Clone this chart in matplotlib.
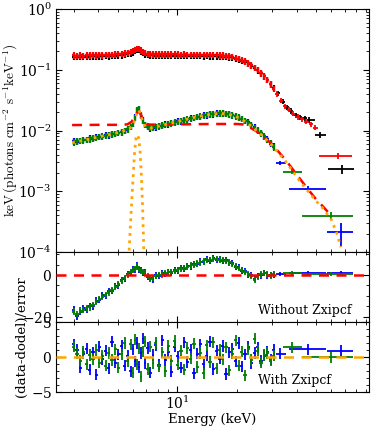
import numpy as np
import matplotlib
matplotlib.use("Agg")
import matplotlib.pyplot as plt
from matplotlib.ticker import MultipleLocator, LogLocator, NullFormatter

plt.rcParams['font.family'] = ['DejaVu Serif']
plt.rcParams['mathtext.fontset'] = 'cm'
plt.rcParams['axes.formatter.use_mathtext'] = True

# energy grid of the dense spectra (keV)
energy = [3.0, 3.12, 3.24, 3.36, 3.49, 3.62, 3.76, 3.9, 4.05, 4.2,
          4.36, 4.52, 4.69, 4.87, 5.05, 5.24, 5.44, 5.64, 5.85, 6.0,
          6.15, 6.3, 6.45, 6.6, 6.75, 6.9, 7.1, 7.3, 7.55, 7.8,
          8.1, 8.4, 8.7, 9.0, 9.35, 9.7, 10.05, 10.45, 10.85, 11.25,
          11.7, 12.15, 12.6, 13.1, 13.6, 14.1, 14.65, 15.2, 15.8, 16.4,
          17.0, 17.65, 18.3, 19.0, 19.7, 20.45, 21.2, 22.0, 22.85, 23.7,
          24.6, 25.5, 26.5, 27.5, 28.5, 29.6, 30.7]

# upper source (red / black)
red_flux = [0.172, 0.170, 0.173, 0.171, 0.174, 0.172, 0.175, 0.173, 0.176, 0.174,
            0.177, 0.176, 0.178, 0.179, 0.181, 0.183, 0.186, 0.190, 0.196, 0.203,
            0.212, 0.224, 0.222, 0.208, 0.197, 0.189, 0.184, 0.181, 0.180, 0.179,
            0.180, 0.179, 0.180, 0.179, 0.180, 0.179, 0.179, 0.178, 0.179, 0.178,
            0.178, 0.177, 0.178, 0.177, 0.176, 0.177, 0.176, 0.175, 0.175, 0.173,
            0.172, 0.170, 0.167, 0.163, 0.158, 0.152, 0.145, 0.137, 0.128, 0.119,
            0.109, 0.099, 0.088, 0.078, 0.068, 0.058, 0.049]
black_flux = [0.163, 0.162, 0.164, 0.163, 0.165, 0.164, 0.166, 0.165, 0.167, 0.166,
              0.168, 0.167, 0.169, 0.170, 0.172, 0.174, 0.177, 0.181, 0.187, 0.194,
              0.203, 0.214, 0.213, 0.199, 0.188, 0.180, 0.175, 0.172, 0.171, 0.170,
              0.171, 0.170, 0.171, 0.170, 0.171, 0.170, 0.170, 0.169, 0.170, 0.169,
              0.169, 0.168, 0.169, 0.168, 0.167, 0.168, 0.167, 0.166, 0.166, 0.165,
              0.164, 0.162, 0.160, 0.157, 0.153, 0.148, 0.142, 0.134, 0.126, 0.117,
              0.108, 0.098, 0.088, 0.078, 0.068, 0.058, 0.050]
red_tail_e = [32.0, 33.5, 35.0, 36.7, 38.5, 40.5, 42.5, 44.8, 47.2, 49.8]
red_tail_f = [0.040, 0.031, 0.025, 0.022, 0.019, 0.0168, 0.0153, 0.0140, 0.0126, 0.0112]
black_tail_e = [32.2, 34.0, 35.8, 37.6, 39.6, 41.7, 44.0, 46.4, 52.5]
black_tail_f = [0.041, 0.030, 0.024, 0.021, 0.0178, 0.0165, 0.0160, 0.0150, 0.0085]
red_wide = dict(e=[64.5], lo=[12.5], hi=[11.5], f=[0.0038], err=[0.0004])
black_wide = dict(e=[68.0], lo=[10.5], hi=[10.0], f=[0.0023], err=[0.0004])

# lower source (blue / green)
green_flux = [0.0064, 0.0066, 0.0067, 0.0069, 0.0071, 0.0072, 0.0074, 0.0076, 0.0078, 0.0080,
              0.0082, 0.0084, 0.0086, 0.0089, 0.0091, 0.0094, 0.0098, 0.0104, 0.0114, 0.0130,
              0.0162, 0.0215, 0.0225, 0.0180, 0.0145, 0.0125, 0.0115, 0.0110, 0.0111, 0.0114,
              0.0118, 0.0121, 0.0125, 0.0128, 0.0132, 0.0136, 0.0140, 0.0144, 0.0148, 0.0152,
              0.0157, 0.0162, 0.0167, 0.0172, 0.0176, 0.0180, 0.0184, 0.0187, 0.0190, 0.0191,
              0.0191, 0.0189, 0.0185, 0.0179, 0.0172, 0.0164, 0.0155, 0.0145, 0.0134, 0.0123,
              0.0112, 0.0101, 0.0090, 0.0080, 0.0071, 0.0062, 0.0053]
blue_flux = [0.0066, 0.0065, 0.0068, 0.0070, 0.0070, 0.0074, 0.0073, 0.0077, 0.0079, 0.0079,
             0.0083, 0.0083, 0.0087, 0.0088, 0.0092, 0.0093, 0.0099, 0.0103, 0.0116, 0.0128,
             0.0165, 0.0210, 0.0228, 0.0176, 0.0148, 0.0123, 0.0117, 0.0108, 0.0113, 0.0112,
             0.0120, 0.0119, 0.0127, 0.0126, 0.0134, 0.0134, 0.0142, 0.0142, 0.0150, 0.0150,
             0.0159, 0.0160, 0.0169, 0.0170, 0.0178, 0.0178, 0.0186, 0.0185, 0.0192, 0.0189,
             0.0193, 0.0187, 0.0187, 0.0177, 0.0174, 0.0162, 0.0157, 0.0143, 0.0136, 0.0121,
             0.0114, 0.0099, 0.0092, 0.0078, 0.0073, 0.0060, 0.0055]
green_wide = dict(e=[38.0, 60.0], lo=[4.0, 17.2], hi=[4.5, 17.5],
                  f=[0.0021, 0.00039], err=[0.0002, 0.00006])
blue_wide = dict(e=[33.2, 45.5, 67.0], lo=[1.8, 9.0, 10.3], hi=[2.4, 11.0, 10.5],
                 f=[0.0029, 0.0011, 0.00021], err=[0.0002, 0.00012, 0.00009])

# models
base_e = [2.95, 4.0, 5.0, 5.6, 5.9, 6.1, 6.3, 6.45, 6.6, 6.8, 7.0, 7.3, 8.0, 10.0, 12.0,
          15.0, 18.0, 20.0, 21.5, 23.0, 25.0, 27.0, 30.0, 33.0, 36.0, 40.0, 45.0, 50.0, 55.0, 60.0]
base_f = [0.0123, 0.0124, 0.0124, 0.0126, 0.0140, 0.0170, 0.0200, 0.0203, 0.0175, 0.0140,
          0.0128, 0.0125, 0.0125, 0.0126, 0.0127, 0.0128, 0.0128, 0.0128, 0.0126, 0.0115,
          0.0098, 0.0082, 0.0060, 0.0042, 0.0030, 0.0019, 0.00115, 0.00075, 0.00054, 0.00039]
full_e = [2.95, 3.5, 4.0, 4.5, 5.0, 5.5, 5.8, 6.0, 6.15, 6.3, 6.4, 6.5, 6.65, 6.8, 7.0, 7.3,
          7.6, 8.0, 9.0, 10.0, 11.0, 12.0, 13.0, 14.0, 15.0, 16.0, 17.0, 18.0, 19.0, 20.0,
          21.0, 22.0, 23.0, 24.0, 25.0, 26.0, 28.0, 30.0, 32.0, 35.0, 38.0, 42.0, 46.0, 50.0,
          55.0, 60.0, 64.0, 67.0]
full_f = [0.0063, 0.0071, 0.0078, 0.0085, 0.0092, 0.0101, 0.0110, 0.0125, 0.0160, 0.0205,
          0.0218, 0.0195, 0.0150, 0.0126, 0.0114, 0.0110, 0.0111, 0.0117, 0.0129, 0.0140,
          0.0151, 0.0162, 0.0172, 0.0180, 0.0187, 0.0190, 0.0190, 0.0186, 0.0179, 0.0167,
          0.0154, 0.0140, 0.0126, 0.0113, 0.0101, 0.0091, 0.0072, 0.0057, 0.0045, 0.0032,
          0.0022, 0.0014, 0.00098, 0.00070, 0.00050, 0.00034, 0.00020, 0.00012]
line_e = [5.70, 5.80, 5.90, 6.00, 6.10, 6.20, 6.30, 6.40, 6.50, 6.60, 6.70, 6.80]
line_f = [8e-5, 2.5e-4, 7e-4, 1.8e-3, 4.5e-3, 7.5e-3, 8.5e-3, 7.5e-3, 4.5e-3, 1.8e-3, 5e-4, 8e-5]

# residuals without Zxipcf
green_res1 = [-17.5, -18.5, -17.0, -16.8, -16.0, -15.5, -14.5, -13.0, -11.5, -10.5,
              -9.5, -8.5, -7.2, -5.8, -4.5, -3.0, -1.5, 0.0, 1.5, 2.5,
              3.0, 4.0, 3.0, 2.0, 1.5, 1.0, -0.5, -2.0, -1.5, -0.5,
              0.0, 0.3, 0.8, 1.2, 1.5, 2.0, 2.5, 3.0, 3.5, 4.0,
              4.5, 5.0, 5.5, 6.0, 6.5, 7.0, 7.3, 7.5, 7.6, 7.4,
              7.0, 6.6, 6.0, 5.2, 4.3, 3.3, 2.5, 1.5, 0.5, -0.5,
              -2.5, -0.8, 0.3, 0.8, 0.2, -0.3, 0.4]
blue_res1 = [-16.5, -19.8, -17.8, -16.0, -16.5, -14.8, -15.0, -12.2, -12.0, -9.8,
             -10.2, -7.8, -7.8, -5.2, -5.0, -2.4, -2.0, 0.6, 1.0, 3.0,
             2.4, 4.5, 2.5, 2.5, 1.0, 1.4, -1.0, -1.5, -2.2, 0.0,
             -0.4, 0.8, 0.4, 1.6, 1.1, 2.4, 2.1, 3.4, 3.1, 4.4,
             4.1, 5.4, 5.1, 6.4, 6.1, 7.5, 6.9, 8.0, 7.2, 7.8,
             6.6, 7.0, 5.6, 5.6, 3.9, 3.7, 2.1, 1.9, 0.1, -0.1,
             -1.8, -0.4, -0.2, 1.1, -0.3, 0.1, 0.0]
green_res1_wide = [1.0, 0.5]
blue_res1_wide = [0.3, 1.0, 1.0]

# residuals with Zxipcf
green_res2 = [1.5, 0.5, -0.5, 0.8, -1.0, 0.3, -0.3, 1.0, -0.8, 0.2,
              -1.2, 0.6, -0.4, 1.1, -1.5, 0.4, 2.0, -0.6, 1.8, -2.2,
              2.5, -1.0, 1.2, -2.8, 0.8, 2.2, -1.7, 1.5, -0.9, 2.0,
              -1.3, 0.7, -2.0, 1.6, -0.5, 2.3, -1.1, 0.9, -1.8, 1.3,
              -0.2, 1.9, -1.4, 0.6, -2.3, 1.7, -0.7, 2.1, -1.6, 1.0,
              -0.3, 1.4, -1.9, 0.5, 2.4, -1.2, 0.8, -2.6, 1.1, -0.4,
              2.6, 0.9, -0.8, 0.3, 0.6, -0.5, 0.2]
blue_res2 = [1.8, 1.0, -1.5, 0.5, 1.2, -1.8, 0.7, -2.5, 1.5, -0.3,
             0.9, -1.6, 2.2, -0.8, 0.4, 1.6, -1.2, 0.2, -2.0, 1.1,
             -0.6, 2.0, -1.4, 0.6, 2.6, -0.9, 1.3, -2.2, 0.3, 1.7,
             -1.1, 2.4, -0.4, 0.8, -2.1, 1.5, 0.1, -1.5, 2.1, -0.7,
             1.0, -2.3, 0.5, 1.8, -1.0, 0.2, 2.2, -1.7, 0.9, -0.2,
             1.6, -2.4, 0.7, 1.2, -0.6, 2.0, -1.3, 0.4, 1.5, -0.9,
             0.6, 1.4, -0.5, 0.2, 0.8, -0.3, 1.0]
green_res2_wide = [1.4, 0.0]
blue_res2_wide = [0.5, 1.1, 0.9]


def bin_halfwidths(e):
    e = np.asarray(e, float)
    edges = np.sqrt(e[1:] * e[:-1])
    lo = np.empty_like(e)
    hi = np.empty_like(e)
    lo[1:] = e[1:] - edges
    hi[:-1] = edges - e[:-1]
    lo[0] = hi[0] * e[0] / e[1]
    hi[-1] = lo[-1] * e[-1] / e[-2]
    return np.vstack([lo, hi])


def spec(ax, e, f, color, frac=0.12, lw=1.6, z=2):
    f = np.asarray(f, float)
    ax.errorbar(e, f, xerr=bin_halfwidths(e), yerr=f * frac, fmt='none',
                ecolor=color, elinewidth=lw, capsize=0, zorder=z)


def wide(ax, d, color, z=2):
    ax.errorbar(d['e'], d['f'], xerr=[d['lo'], d['hi']], yerr=d['err'], fmt='none',
                ecolor=color, elinewidth=1.3, capsize=0, zorder=z)


def resid(ax, e, r, color, err, xerr=None, z=2):
    if xerr is None:
        xerr = bin_halfwidths(e)
    ax.errorbar(e, r, xerr=xerr, yerr=err, fmt='none', ecolor=color,
                elinewidth=1.3, capsize=0, zorder=z)


def style(ax):
    ax.tick_params(which='both', direction='in', top=True, right=True, labelsize=10, pad=3)
    ax.tick_params(which='major', length=4, width=0.8)
    ax.tick_params(which='minor', length=2, width=0.6)
    for s in ax.spines.values():
        s.set_linewidth(0.8)


fig = plt.figure(figsize=(3.74, 4.30), dpi=100)
x0, w = 0.150, 0.837
ax1 = fig.add_axes([x0, 0.414, w, 0.565])
ax2 = fig.add_axes([x0, 0.251, w, 0.163], sharex=ax1)
ax3 = fig.add_axes([x0, 0.088, w, 0.163], sharex=ax1)

# top panel
spec(ax1, energy, black_flux, 'black')
spec(ax1, black_tail_e, black_tail_f, 'black', frac=0.1, lw=1.3)
wide(ax1, black_wide, 'black')
spec(ax1, energy, red_flux, 'red', z=3)
spec(ax1, red_tail_e, red_tail_f, 'red', frac=0.1, lw=1.3, z=3)
wide(ax1, red_wide, 'red', z=3)
spec(ax1, energy, blue_flux, 'blue', z=4)
wide(ax1, blue_wide, 'blue', z=4)
spec(ax1, energy, green_flux, 'green', z=5)
wide(ax1, green_wide, 'green', z=5)
ax1.plot(base_e, base_f, color='red', ls=(0, (4, 3)), lw=1.8, zorder=6)
ax1.plot(full_e, full_f, color='orange', ls=':', lw=2.0, zorder=7)
ax1.plot(line_e, line_f, color='orange', ls=':', lw=2.0, zorder=7)
ax1.set_xscale('log')
ax1.set_yscale('log')
ax1.set_xlim(2.45, 93)
ax1.set_ylim(1e-4, 1)
ax1.yaxis.set_minor_locator(LogLocator(base=10, subs=np.arange(2, 10), numticks=20))
ax1.tick_params(labelbottom=False)
style(ax1)
fig.text(0.03, 0.698, r'$\mathrm{keV\,(photons\ cm^{-2}\ s^{-1}keV^{-1})}$',
         rotation=90, ha='center', va='center', fontsize=9.5)

# middle panel: without Zxipcf
resid(ax2, energy, blue_res1, 'blue', 1.5)
resid(ax2, blue_wide['e'], blue_res1_wide, 'blue', 1.0,
      xerr=[blue_wide['lo'], blue_wide['hi']])
resid(ax2, energy, green_res1, 'green', 1.5, z=3)
resid(ax2, green_wide['e'], green_res1_wide, 'green', 1.0,
      xerr=[green_wide['lo'], green_wide['hi']], z=3)
ax2.axhline(0, color='red', ls=(0, (4, 3)), lw=1.8, zorder=4)
ax2.set_ylim(-22.5, 11)
ax2.yaxis.set_major_locator(MultipleLocator(20))
ax2.yaxis.set_minor_locator(MultipleLocator(5))
ax2.text(25.5, -17.0, 'Without Zxipcf', fontsize=9, va='center', ha='left')
ax2.tick_params(labelbottom=False)
style(ax2)

# bottom panel: with Zxipcf
resid(ax3, energy, blue_res2, 'blue', 0.8)
resid(ax3, blue_wide['e'], blue_res2_wide, 'blue', 0.8,
      xerr=[blue_wide['lo'], blue_wide['hi']])
resid(ax3, energy, green_res2, 'green', 0.8, z=3)
resid(ax3, green_wide['e'], green_res2_wide, 'green', 0.8,
      xerr=[green_wide['lo'], green_wide['hi']], z=3)
ax3.axhline(0, color='orange', ls=(0, (4, 3)), lw=1.8, zorder=4)
ax3.set_ylim(-5, 5)
ax3.yaxis.set_major_locator(MultipleLocator(5))
ax3.yaxis.set_minor_locator(MultipleLocator(1))
ax3.text(25.5, -3.3, 'With Zxipcf', fontsize=9, va='center', ha='left')
ax3.xaxis.set_minor_formatter(NullFormatter())
style(ax3)
ax3.tick_params(axis='x', pad=1.5)

fig.text(0.5681, 0.024, 'Energy (keV)', ha='center', va='center', fontsize=9.5)
fig.text(0.058, 0.216, '(data-dodel)/error', rotation=90, ha='center', va='center',
         fontsize=9.5)

fig.savefig('out.png', dpi=100)
